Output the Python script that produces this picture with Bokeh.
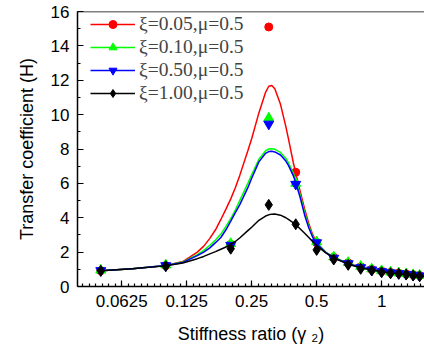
from bokeh.plotting import figure
from bokeh.models import (FixedTicker, SingleIntervalTicker, CustomJSTickFormatter, Legend, LegendItem,
                          Range1d, Span, Title)
from bokeh.embed import file_html
from bokeh.resources import INLINE

# ---- data ----
labels = ["ξ=0.05,μ=0.5", "ξ=0.10,μ=0.5", "ξ=0.50,μ=0.5", "ξ=1.00,μ=0.5"]
colors = ["#FF0000", "#00FF00", "#0000FF", "#000000"]
markers = ["circle", "triangle", "inverted_triangle", "diamond"]

curve_x = [0.05, 0.07, 0.1, 0.12, 0.14, 0.15, 0.16, 0.17, 0.18, 0.19, 0.2, 0.21, 0.22, 0.24, 0.25,
           0.27, 0.29, 0.3, 0.31, 0.32, 0.34, 0.36, 0.37, 0.39, 0.4, 0.42, 0.44, 0.46, 0.48, 0.5,
           0.55, 0.6, 0.7, 0.8, 1.0, 1.2, 1.5, 1.6]
curve_red = [0.92, 1.03, 1.22, 1.45, 2.0, 2.35, 2.8, 3.3, 3.9, 4.5, 5.1, 5.75, 6.45, 7.9, 8.6,
             10.1, 11.3, 11.65, 11.7, 11.5, 10.6, 9.3, 8.6, 7.2, 6.6, 5.5, 4.5, 3.65, 3.0, 2.55,
             2.0, 1.7, 1.33, 1.12, 0.88, 0.75, 0.62, 0.59]
curve_green = [0.92, 1.03, 1.22, 1.42, 1.85, 2.1, 2.4, 2.7, 3.05, 3.5, 3.95, 4.45, 5.0, 6.0, 6.5,
               7.4, 7.9, 8.0, 8.02, 7.98, 7.8, 7.45, 7.2, 6.6, 6.2, 5.3, 4.3, 3.5, 2.9, 2.55,
               2.0, 1.7, 1.33, 1.12, 0.88, 0.75, 0.62, 0.59]
curve_blue = [0.92, 1.03, 1.22, 1.4, 1.8, 2.0, 2.25, 2.55, 2.85, 3.3, 3.8, 4.3, 4.75, 5.75, 6.3,
              7.25, 7.75, 7.85, 7.87, 7.83, 7.65, 7.3, 7.05, 6.45, 6.05, 5.15, 4.15, 3.4, 2.85, 2.5,
              1.97, 1.68, 1.32, 1.11, 0.87, 0.74, 0.61, 0.58]
curve_black = [0.92, 1.03, 1.2, 1.37, 1.62, 1.75, 1.9, 2.03, 2.17, 2.3, 2.45, 2.62, 2.82, 3.25, 3.45,
               3.85, 4.1, 4.17, 4.21, 4.22, 4.15, 4.0, 3.9, 3.7, 3.6, 3.35, 3.1, 2.85, 2.6, 2.38,
               1.97, 1.66, 1.3, 1.09, 0.86, 0.73, 0.6, 0.58]

point_x = [0.05, 0.1, 0.2, 0.3, 0.4, 0.5, 0.6, 0.7, 0.8, 0.9, 1.0, 1.1, 1.2, 1.3, 1.4, 1.5]
point_red = [0.92, 1.22, 2.45, 15.1, 6.65, 2.55, 1.7, 1.38, 1.15, 1.0, 0.9, 0.82, 0.78, 0.73, 0.68, 0.64]
point_green = [0.95, 1.25, 2.5, 9.8, 6.0, 2.6, 1.72, 1.4, 1.17, 1.02, 0.92, 0.84, 0.79, 0.74, 0.69, 0.65]
point_blue = [0.93, 1.22, 2.4, 9.45, 5.95, 2.55, 1.65, 1.33, 1.1, 0.97, 0.87, 0.8, 0.76, 0.71, 0.66, 0.62]
point_black = [0.91, 1.18, 2.2, 4.75, 3.62, 2.13, 1.57, 1.26, 1.03, 0.93, 0.83, 0.77, 0.74, 0.7, 0.64, 0.6]

x_major_ticks = [0.0625, 0.125, 0.25, 0.5, 1]
y_max = 16

curves = [curve_red, curve_green, curve_blue, curve_black]
points = [point_red, point_green, point_blue, point_black]

# ---- figure ----
p = figure(width=424, height=350, x_axis_type="log", output_backend="svg", toolbar_location=None,
           x_range=Range1d(0.039, 1.58), y_range=Range1d(0, y_max),
           min_border_left=77, min_border_right=0, min_border_top=11, min_border_bottom=64)
p.outline_line_color = None
p.xgrid.visible = False
p.ygrid.visible = False
p.background_fill_color = "white"

items = []
sizes = [8, 10, 10, 11]
for i in range(4):
    ln = p.line(curve_x, curves[i], line_color=colors[i], line_width=1.5)
    sc = p.scatter(point_x, points[i], marker=markers[i], size=sizes[i],
                   fill_color=colors[i], line_color=colors[i])
    items.append(LegendItem(label=labels[i], renderers=[ln, sc]))

legend = Legend(items=items, location=(13, 182), padding=5, spacing=1, margin=0,
                glyph_width=45, glyph_height=20, label_height=20, label_standoff=4,
                label_text_font="Liberation Serif", label_text_font_size="19.5px",
                border_line_color=None, background_fill_alpha=0)
p.add_layout(legend, "center")

# minor ticks every 1/10 octave
minor = [0.0625 * 2 ** (k / 10) for k in range(-8, 72)]
xa = p.xaxis[0]
xa.ticker = FixedTicker(ticks=x_major_ticks, minor_ticks=minor)
xa.formatter = CustomJSTickFormatter(code="return tick.toString();")
ya = p.yaxis[0]
ya.ticker = SingleIntervalTicker(interval=2, num_minor_ticks=2)

for ax in (xa, ya):
    ax.axis_line_width = 1.5
    ax.axis_line_color = "black"
    ax.major_tick_in = 6
    ax.major_tick_out = 0
    ax.minor_tick_in = 3
    ax.minor_tick_out = 0
    ax.major_tick_line_width = 1.2
    ax.minor_tick_line_width = 1.2
    ax.major_label_text_font = "Liberation Sans"
    ax.major_label_text_font_size = "17px"
    ax.major_label_text_color = "black"
    ax.axis_label_text_font = "Liberation Sans"
    ax.axis_label_text_font_size = "18px"
    ax.axis_label_text_font_style = "normal"
    ax.axis_label_text_color = "black"

xa.axis_label = "Stiffness ratio (γ ₂)"
xa.major_label_standoff = 8
xa.axis_label_standoff = 14
ya.major_label_standoff = 8

ytitle = Title(text="Transfer coefficient (H)", align="center", offset=12, standoff=22,
               text_font="Liberation Sans", text_font_size="18px", text_font_style="normal",
               text_color="black")
p.add_layout(ytitle, "left")

# top frame line
p.add_layout(Span(location=y_max, dimension="width", line_color="black", line_width=1.5))

open("out.html", "w").write(file_html(p, INLINE))
